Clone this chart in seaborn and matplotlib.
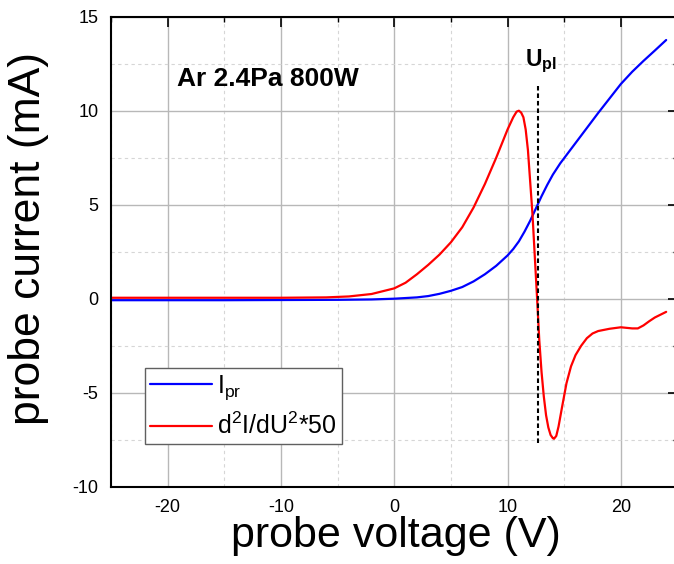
import matplotlib
matplotlib.use("Agg")
import matplotlib.pyplot as plt
import seaborn as sns
import pandas as pd
from matplotlib.ticker import MultipleLocator

# probe current I_pr (mA) vs probe voltage (V)
u_ipr = [-25, -20, -15, -10, -5, -2, 0, 2, 3, 4, 5, 6, 7, 8, 9, 10, 10.5, 11,
         11.5, 12, 12.5, 13, 13.5, 14, 14.65, 15, 16, 17, 18, 19, 20, 21, 22,
         23, 24]
i_pr = [-0.08, -0.08, -0.08, -0.07, -0.06, -0.04, 0.0, 0.07, 0.14, 0.26, 0.42,
        0.62, 0.92, 1.3, 1.75, 2.3, 2.64, 3.05, 3.57, 4.15, 4.8, 5.45, 6.05,
        6.6, 7.2, 7.48, 8.28, 9.08, 9.88, 10.65, 11.42, 12.07, 12.65, 13.2,
        13.76]

# second derivative d2I/dU2 * 50
u_d2 = [-25, -20, -15, -10, -6, -4, -2, -1, 0, 1, 2, 3, 4, 5, 6, 7, 8, 9, 9.5,
        10, 10.5, 10.8, 11.0, 11.2, 11.4, 11.6, 11.8, 12.0, 12.2, 12.4, 12.6,
        12.8, 13.0, 13.2, 13.4, 13.6, 13.8, 14.0, 14.1, 14.3, 14.5, 14.8, 15.2,
        15.6, 16.0, 16.5, 17.0, 17.5, 18.0, 19.0, 20.0, 21.0, 21.5, 22.0, 22.5,
        23.0, 23.5, 24.0]
d2i = [0.05, 0.05, 0.05, 0.05, 0.07, 0.12, 0.25, 0.4, 0.55, 0.85, 1.3, 1.8,
       2.35, 3.0, 3.8, 4.85, 6.1, 7.5, 8.25, 9.0, 9.65, 9.95, 10.0, 9.9, 9.65,
       9.0, 7.9, 6.2, 4.5, 2.3, 0.1, -2.2, -3.9, -5.2, -6.2, -6.85, -7.25,
       -7.42, -7.45, -7.3, -6.8, -5.8, -4.5, -3.6, -3.0, -2.5, -2.1, -1.85,
       -1.72, -1.6, -1.52, -1.58, -1.58, -1.42, -1.2, -1.0, -0.85, -0.7]

# plasma potential marker
u_pl = 12.68
u_pl_ymin, u_pl_ymax = -7.7, 11.3

label_ipr = r"$\mathregular{I_{pr}}$"
label_d2 = r"$\mathregular{d^2I/dU^2{*}50}$"
condition = "Ar 2.4Pa 800W"

df = pd.concat([
    pd.DataFrame({"U": u_ipr, "I": i_pr, "serie": label_ipr}),
    pd.DataFrame({"U": u_d2, "I": d2i, "serie": label_d2}),
], ignore_index=True)

sns.set_style("white")
plt.rcParams["font.family"] = ["Liberation Sans", "DejaVu Sans"]
plt.rcParams["mathtext.fontset"] = "custom"
plt.rcParams["mathtext.rm"] = "Liberation Sans"
plt.rcParams["mathtext.bf"] = "Liberation Sans:bold"
plt.rcParams["mathtext.it"] = "Liberation Sans:italic"
plt.rcParams["axes.unicode_minus"] = False
plt.rcParams["text.color"] = "black"
plt.rcParams["axes.labelcolor"] = "black"

fig = plt.figure(figsize=(6.74, 5.64), dpi=100)
ax = fig.add_axes([111 / 674, 1 - 486.7 / 564, 566.5 / 674, 470 / 564])

sns.lineplot(data=df, x="U", y="I", hue="serie", palette=["#0000ff", "#ff0000"],
             sort=False, linewidth=1.6, ax=ax)
ax.plot([u_pl, u_pl], [u_pl_ymin, u_pl_ymax], color="black", linewidth=1.5,
        linestyle=(0, (2.2, 1.4)))

ax.set_xlim(-25, 25)
ax.set_ylim(-10, 15)
ax.xaxis.set_major_locator(MultipleLocator(10))
ax.xaxis.set_minor_locator(MultipleLocator(5))
ax.yaxis.set_major_locator(MultipleLocator(5))
ax.yaxis.set_minor_locator(MultipleLocator(2.5))

ax.grid(which="major", color="#b8b8b8", linewidth=1.0, linestyle="-")
ax.grid(which="minor", color="#d6d6d6", linewidth=0.8, linestyle=(0, (3, 3)))
ax.set_axisbelow(True)

for side in ["left", "bottom", "top", "right"]:
    ax.spines[side].set_visible(True)
    ax.spines[side].set_color("black")
    ax.spines[side].set_linewidth(1.5)

ax.tick_params(which="both", direction="in", top=True, right=True,
               colors="black", labelsize=13)
ax.tick_params(which="major", length=7, width=1.2, pad=9)
ax.tick_params(which="minor", length=3.5, width=1.0)

ax.set_xlabel("probe voltage (V)", fontsize=31)
ax.set_ylabel("probe current (mA)", fontsize=32)
ax.xaxis.set_label_coords(0.502, -0.062)
ax.yaxis.set_label_coords(-0.11, 0.529)

ax.text(-19.15, 11.7, condition, fontsize=19, fontweight="bold",
        ha="left", va="center")
ax.text(11.5, 12.35, r"$\mathbf{U_{pl}}$", fontsize=16.5, ha="left",
        va="baseline")

leg = ax.legend(loc="upper left", bbox_to_anchor=(0.06, 0.2526),
                borderaxespad=0, fontsize=18, handlelength=2.5,
                handletextpad=0.2, borderpad=0.2, labelspacing=0.45,
                fancybox=False, framealpha=1, edgecolor="#606060",
                title=None)
leg.get_frame().set_linewidth(1.0)

fig.savefig("out.png", dpi=100)
plt.close()
